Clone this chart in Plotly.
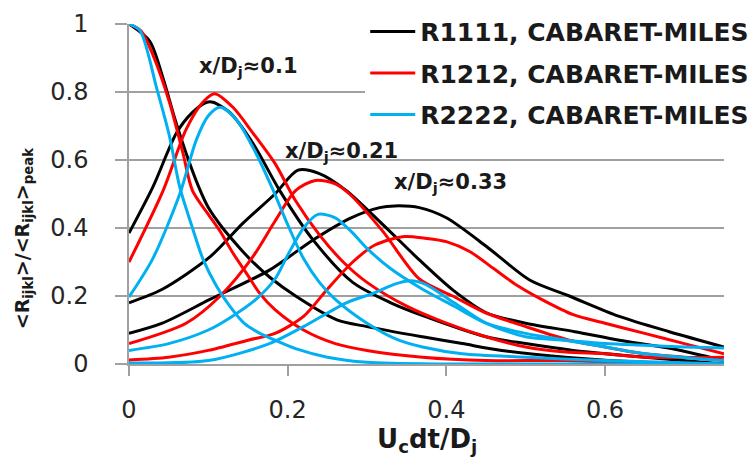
import plotly.graph_objects as go

# ---- data ----
# x/Dj = 0 (autocorrelation)
bk0_x = [0, .026, .043, .058, .072, .088, .10, .118, .14, .156, .177, .21, .262, .30, .37, .42, .47, .55, .65, .75]
bk0_y = [1, .95, .84, .72, .62, .52, .46, .40, .34, .30, .256, .20, .13, .11, .08, .06, .04, .02, .005, 0]
rd0_x = [0, .015, .03, .051, .068, .08, .10, .115, .13, .15, .164, .184, .22, .26, .30, .37, .45, .55, .65, .75]
rd0_y = [1, .98, .91, .77, .62, .51, .44, .39, .33, .26, .21, .16, .10, .06, .04, .02, .01, .01, 0, 0]
bl0_x = [0, .014, .035, .051, .064, .08, .093, .11, .127, .145, .165, .184, .21, .25, .30, .40, .50, .60, .75]
bl0_y = [1, .98, .81, .67, .52, .40, .31, .23, .17, .12, .09, .07, .045, .02, .005, 0, 0, 0, 0]

# x/Dj ~ 0.1
bk1_x = [0, .03, .06, .08, .098, .106, .127, .156, .19, .232, .282, .33, .373, .45, .50, .56, .65, .75]
bk1_y = [.385, .52, .68, .74, .77, .77, .74, .65, .51, .365, .24, .18, .14, .08, .06, .04, .02, 0]
rd1_x = [0, .043, .072, .093, .108, .131, .156, .184, .21, .24, .27, .30, .35, .40, .45, .50, .55, .60, .65, .75]
rd1_y = [.30, .51, .69, .77, .795, .755, .68, .59, .48, .38, .30, .24, .17, .12, .08, .05, .035, .03, .02, .02]
bl1_x = [0, .03, .064, .085, .10, .115, .135, .16, .18, .20, .22, .24, .26, .30, .34, .37, .42, .50, .60, .75]
bl1_y = [.197, .31, .50, .66, .73, .755, .72, .62, .52, .41, .31, .24, .19, .12, .07, .05, .03, .02, .01, 0]

# x/Dj ~ 0.21
bk2_x = [0, .042, .102, .144, .184, .213, .24, .274, .32, .366, .408, .451, .50, .562, .618, .68, .75]
bk2_y = [.18, .22, .315, .415, .50, .57, .56, .51, .41, .306, .218, .15, .12, .095, .07, .047, .01]
rd2_x = [0, .072, .115, .156, .184, .21, .235, .26, .278, .32, .366, .408, .45, .50, .555, .60, .65, .70, .75]
rd2_y = [.06, .12, .20, .315, .42, .51, .54, .53, .50, .39, .25, .20, .15, .11, .07, .05, .03, .02, .01]
bl2_x = [0, .05, .10, .13, .16, .184, .20, .22, .238, .26, .28, .30, .33, .37, .41, .45, .50, .55, .60, .65, .75]
bl2_y = [.04, .06, .10, .14, .19, .25, .32, .40, .44, .43, .39, .34, .28, .22, .17, .12, .09, .07, .05, .03, .01]

# x/Dj ~ 0.33
bk3_x = [0, .042, .102, .177, .232, .28, .316, .335, .366, .40, .451, .505, .555, .618, .681, .75]
bk3_y = [.09, .12, .19, .276, .365, .43, .46, .465, .46, .43, .345, .247, .20, .14, .095, .05]
rd3_x = [0, .05, .10, .15, .184, .22, .25, .282, .31, .347, .373, .40, .43, .46, .49, .52, .56, .60, .65, .70, .75]
rd3_y = [.012, .02, .04, .07, .09, .14, .22, .30, .35, .375, .37, .36, .33, .28, .23, .19, .145, .12, .09, .06, .03]
bl3_x = [0, .10, .177, .22, .274, .31, .335, .355, .373, .41, .45, .50, .55, .60, .65, .70, .75]
bl3_y = [.003, .01, .06, .11, .18, .21, .235, .245, .235, .18, .12, .08, .07, .06, .055, .05, .047]

names = ["R1111, CABARET-MILES", "R1212, CABARET-MILES", "R2222, CABARET-MILES"]
colors = ["#000000", "#ff0000", "#00b0f0"]
series = [
    [(bk0_x, bk0_y), (bk1_x, bk1_y), (bk2_x, bk2_y), (bk3_x, bk3_y)],
    [(rd0_x, rd0_y), (rd1_x, rd1_y), (rd2_x, rd2_y), (rd3_x, rd3_y)],
    [(bl0_x, bl0_y), (bl1_x, bl1_y), (bl2_x, bl2_y), (bl3_x, bl3_y)],
]
x_ticks = [0, 0.2, 0.4, 0.6]
x_tick_text = ["0", "0.2", "0.4", "0.6"]
y_ticks = [0, 0.2, 0.4, 0.6, 0.8, 1]
y_tick_text = ["0", "0.2", "0.4", "0.6", "0.8", "1"]

fig = go.Figure()
for ci in range(3):
    for k, (xs, ys) in enumerate(series[ci]):
        fig.add_trace(go.Scatter(
            x=xs, y=ys, mode="lines", name=names[ci],
            line=dict(color=colors[ci], width=3, shape="spline", smoothing=0.8),
            legendgroup=f"g{ci}", showlegend=(k == 0)))

fnt = "'DejaVu Sans', sans-serif"
fig.update_layout(
    width=749, height=459,
    margin=dict(l=129, r=25, t=24, b=95, autoexpand=False),
    paper_bgcolor="white", plot_bgcolor="white",
    font=dict(family=fnt, color="#262626"),
    showlegend=True,
    legend=dict(x=0.397, y=1.045, xanchor="left", yanchor="top",
                bgcolor="white", borderwidth=0, itemwidth=45,
                font=dict(family=fnt, size=25, color="#1a1a1a", weight="bold"),
                tracegroupgap=6, traceorder="grouped"),
    xaxis=dict(range=[0, 0.75], tickvals=x_ticks, ticktext=x_tick_text,
               showgrid=False, zeroline=False, showline=True, linecolor="#a0a0a0", linewidth=1.5,
               ticks="outside", ticklen=10, tickcolor="#a0a0a0", tickwidth=1.5,
               ticklabelstandoff=13, tickfont=dict(size=24, family=fnt, color="#262626")),
    yaxis=dict(range=[0, 1], tickvals=y_ticks, ticktext=y_tick_text,
               showgrid=True, gridcolor="#a0a0a0", gridwidth=1.5, zeroline=False,
               showline=True, linecolor="#a0a0a0", linewidth=1.5,
               ticks="outside", ticklen=12, tickcolor="#a0a0a0", tickwidth=1.5,
               ticklabelstandoff=22, tickfont=dict(size=24, family=fnt, color="#262626")),
)

ann_font = dict(family=fnt, size=21, color="#1a1a1a", weight="bold")
fig.add_annotation(x=0.0853, y=0.875, xref="x", yref="y", text="x/D<sub>j</sub>≈0.1",
                   showarrow=False, xanchor="left", yanchor="middle", font=ann_font)
fig.add_annotation(x=0.1937, y=0.624, xref="x", yref="y", text="x/D<sub>j</sub>≈0.21",
                   showarrow=False, xanchor="left", yanchor="middle", font=ann_font)
fig.add_annotation(x=0.331, y=0.532, xref="x", yref="y", text="x/D<sub>j</sub>≈0.33",
                   showarrow=False, xanchor="left", yanchor="middle", font=ann_font)
# axis titles
fig.add_annotation(x=0.5, y=-0.225, xref="paper", yref="paper",
                   text="U<sub>c</sub>dt/D<sub>j</sub>", showarrow=False,
                   xanchor="center", yanchor="middle",
                   font=dict(family=fnt, size=26, color="#1a1a1a", weight="bold"))
fig.add_annotation(x=-0.178, y=0.37, xref="paper", yref="paper",
                   text="<R<sub>ijkl</sub>>/<R<sub>ijkl</sub>><sub>peak</sub>", showarrow=False,
                   textangle=-90, xanchor="center", yanchor="middle",
                   font=dict(family=fnt, size=19, color="#1a1a1a", weight="bold"))

fig.write_html("out.html")
